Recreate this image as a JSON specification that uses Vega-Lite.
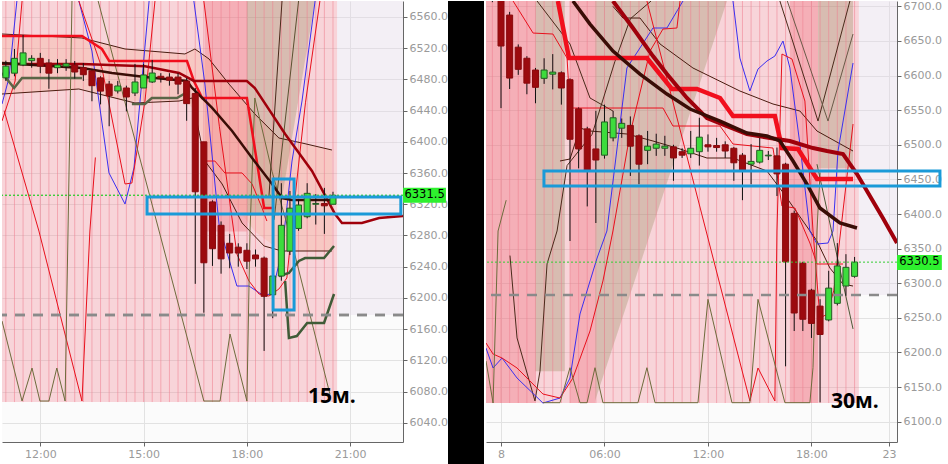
{
"$schema":"https://vega.github.io/schema/vega-lite/v6.json",
"padding":0,
"background":"#ffffff",
"spacing":0,
"config":{"view":{"stroke":null},"scale":{"continuousPadding":0},"axis":{"domainColor":"#666","tickColor":"#666","tickSize":4,"labelPadding":2,"gridColor":"#e2e2e2","labelColor":"#9a9a9a","labelFont":"DejaVu Sans","labelFontSize":11,"domainWidth":1}},
"datasets":{
"z15":[{"k":"base","t":10.888,"t2":20.62,"v":6066.5,"v2":6580.5},{"k":"lav","t":20.62,"t2":22.533,"v":6178,"v2":6580.5},{"k":"dark","t":16.78,"t2":18.0,"v":6285,"v2":6580.5}],
"a15":[{"t":18.0,"hi":6580.5,"lo":6305},{"t":18.93,"hi":6580.5,"lo":6305},{"t":19.98,"hi":6580.5,"lo":6580.5}],
"e15":[{"t":10.888,"hi":6538,"lo":6461},{"t":13.21,"hi":6533,"lo":6468},{"t":14.46,"hi":6519,"lo":6452},{"t":16.2,"hi":6512,"lo":6453},{"t":16.49,"hi":6519,"lo":6440},{"t":16.9,"hi":6506,"lo":6370},{"t":17.48,"hi":6474,"lo":6330},{"t":18.23,"hi":6436,"lo":6285},{"t":18.93,"hi":6405,"lo":6262},{"t":19.6,"hi":6398,"lo":6260},{"t":20.47,"hi":6389,"lo":6260}],
"z30":[{"k":"base","t":-0.87,"t2":20.75,"v":6127,"v2":6707.7},{"k":"lav","t":20.75,"t2":22.96,"v":6283,"v2":6707.7},{"k":"dark","t":-0.87,"t2":1.97,"v":6127,"v2":6707.7},{"k":"tan","t":1.97,"t2":3.7,"v":6173,"v2":6707.7},{"k":"dark","t":4.0,"t2":5.45,"v":6127,"v2":6707.7},{"k":"dark","t":16.75,"t2":18.38,"v":6127,"v2":6707.7},{"k":"tan","t":18.38,"t2":20.41,"v":6466,"v2":6707.7}],
"a30":[{"t":5.45,"hi":6707.7,"lo":6130},{"t":13.1,"hi":6707.7,"lo":6707.7}],
"c15":[
{"t":11.0,"o":6482,"h":6504,"l":6478,"c":6497},{"t":11.25,"o":6488,"h":6519,"l":6484,"c":6507},{"t":11.5,"o":6498.5,"h":6537,"l":6497,"c":6514},{"t":11.75,"o":6504,"h":6511,"l":6495,"c":6507},{"t":12.0,"o":6507,"h":6514,"l":6488,"c":6497},{"t":12.25,"o":6501,"h":6506,"l":6468,"c":6488},{"t":12.5,"o":6495,"h":6506,"l":6488,"c":6498.5},{"t":12.75,"o":6497,"h":6506,"l":6491,"c":6500},{"t":13.0,"o":6498.5,"h":6503.6,"l":6481,"c":6489.5},{"t":13.25,"o":6495,"h":6501,"l":6478,"c":6486},{"t":13.5,"o":6491,"h":6493,"l":6452,"c":6472},{"t":13.75,"o":6482,"h":6484,"l":6448,"c":6465},{"t":14.0,"o":6474,"h":6478,"l":6420,"c":6459},{"t":14.25,"o":6465.2,"h":6478,"l":6462,"c":6471.6},{"t":14.5,"o":6469,"h":6472,"l":6439,"c":6457.5},{"t":14.75,"o":6462.6,"h":6499.8,"l":6458.7,"c":6476.7},{"t":15.0,"o":6469,"h":6499.8,"l":6469,"c":6485.7},{"t":15.25,"o":6476.7,"h":6504.9,"l":6475.4,"c":6488.2},{"t":15.5,"o":6484,"h":6488,"l":6476,"c":6482},{"t":15.75,"o":6483,"h":6488,"l":6472,"c":6479},{"t":16.0,"o":6483,"h":6488,"l":6461,"c":6474},{"t":16.25,"o":6478,"h":6482,"l":6427,"c":6449},{"t":16.5,"o":6462,"h":6469,"l":6218,"c":6336},{"t":16.75,"o":6400,"h":6400,"l":6181,"c":6245},{"t":17.0,"o":6323,"h":6325,"l":6241,"c":6263},{"t":17.25,"o":6293,"h":6298,"l":6231,"c":6250},{"t":17.5,"o":6270,"h":6282,"l":6238,"c":6257.5},{"t":17.75,"o":6265,"h":6270,"l":6240,"c":6257.5},{"t":18.0,"o":6261,"h":6270,"l":6237,"c":6247},{"t":18.25,"o":6255,"h":6262,"l":6240,"c":6250},{"t":18.5,"o":6251,"h":6253,"l":6132,"c":6202},{"t":18.75,"o":6204,"h":6235,"l":6174,"c":6228},{"t":19.0,"o":6228,"h":6347,"l":6222,"c":6293},{"t":19.25,"o":6260,"h":6337,"l":6255,"c":6315},{"t":19.5,"o":6289,"h":6326,"l":6286,"c":6319},{"t":19.75,"o":6304,"h":6347,"l":6302,"c":6334},{"t":20.0,"o":6320,"h":6333,"l":6294,"c":6321},{"t":20.25,"o":6321,"h":6341,"l":6282,"c":6318},{"t":20.5,"o":6320,"h":6336,"l":6320,"c":6331.5}],
"c30":[
{"t":-0.5,"o":6780,"h":6790,"l":6706,"c":6745},{"t":0.0,"o":6720,"h":6730,"l":6553,"c":6642.7},{"t":0.5,"o":6687.4,"h":6692,"l":6580.6,"c":6596.4},{"t":1.0,"o":6641,"h":6645,"l":6601,"c":6609},{"t":1.5,"o":6625,"h":6628,"l":6573,"c":6589},{"t":2.0,"o":6608,"h":6611,"l":6560,"c":6583},{"t":2.5,"o":6596,"h":6625,"l":6588,"c":6608},{"t":3.0,"o":6602,"h":6631,"l":6580,"c":6605},{"t":3.5,"o":6604,"h":6606,"l":6558,"c":6582},{"t":4.0,"o":6594,"h":6596,"l":6361,"c":6508},{"t":4.5,"o":6552,"h":6554,"l":6466,"c":6494},{"t":5.0,"o":6523,"h":6526,"l":6411,"c":6462},{"t":5.5,"o":6494,"h":6549,"l":6387,"c":6478},{"t":6.0,"o":6485,"h":6558,"l":6480,"c":6533},{"t":6.5,"o":6510,"h":6549,"l":6505,"c":6539},{"t":7.0,"o":6524,"h":6538,"l":6510,"c":6531},{"t":7.5,"o":6528,"h":6541,"l":6455,"c":6498},{"t":8.0,"o":6513,"h":6515,"l":6443,"c":6472},{"t":8.5,"o":6492,"h":6520,"l":6472,"c":6498},{"t":9.0,"o":6495,"h":6516,"l":6484,"c":6501},{"t":9.5,"o":6495,"h":6513,"l":6484,"c":6498},{"t":10.0,"o":6497,"h":6500,"l":6448,"c":6481},{"t":10.5,"o":6490,"h":6495,"l":6481,"c":6485},{"t":11.0,"o":6487,"h":6520,"l":6481,"c":6495},{"t":11.5,"o":6490,"h":6539,"l":6470,"c":6511},{"t":12.0,"o":6500,"h":6515,"l":6490,"c":6497},{"t":12.5,"o":6499,"h":6510,"l":6490,"c":6496},{"t":13.0,"o":6500,"h":6505,"l":6481,"c":6491},{"t":13.5,"o":6495,"h":6497,"l":6448,"c":6474},{"t":14.0,"o":6485,"h":6488,"l":6420,"c":6462},{"t":14.5,"o":6472,"h":6501,"l":6443,"c":6476},{"t":15.0,"o":6475,"h":6510,"l":6473,"c":6492},{"t":15.5,"o":6484,"h":6491,"l":6478,"c":6485},{"t":16.0,"o":6484,"h":6496,"l":6426,"c":6458},{"t":16.5,"o":6472,"h":6474,"l":6180,"c":6331},{"t":17.0,"o":6401,"h":6405,"l":6231,"c":6257},{"t":17.5,"o":6329,"h":6331,"l":6231,"c":6248},{"t":18.0,"o":6290,"h":6292,"l":6221,"c":6242},{"t":18.5,"o":6267,"h":6277,"l":6128,"c":6226},{"t":19.0,"o":6247,"h":6318,"l":6245,"c":6293},{"t":19.5,"o":6271,"h":6358,"l":6268,"c":6325},{"t":20.0,"o":6296,"h":6342,"l":6282,"c":6323},{"t":20.5,"o":6310,"h":6338,"l":6308,"c":6330.5}],
"l15":[
{"s":"redstep","t":10.888,"v":6535.6},{"s":"redstep","t":13.21,"v":6535.6},{"s":"redstep","t":13.79,"v":6519},{"s":"redstep","t":14.0,"v":6503.6},{"s":"redstep","t":16.26,"v":6503.6},{"s":"redstep","t":16.46,"v":6478},{"s":"redstep","t":16.7,"v":6456.2},{"s":"redstep","t":18.0,"v":6456.2},{"s":"redstep","t":18.5,"v":6315.2},{"s":"redstep","t":18.79,"v":6315.2},
{"s":"darkred","t":10.888,"v":6499.8},{"s":"darkred","t":13.21,"v":6499.8},{"s":"darkred","t":15.04,"v":6497},{"s":"darkred","t":16.03,"v":6488.2},{"s":"darkred","t":16.46,"v":6478},{"s":"darkred","t":18.0,"v":6478},{"s":"darkred","t":18.23,"v":6469},{"s":"darkred","t":19.11,"v":6410},{"s":"darkred","t":19.89,"v":6362.6},{"s":"darkred","t":20.56,"v":6307.5},{"s":"darkred","t":20.76,"v":6296},{"s":"darkred","t":21.34,"v":6296},{"s":"darkred","t":21.84,"v":6302.4},{"s":"darkred","t":22.533,"v":6305},
{"s":"ma","t":10.888,"v":6501},{"s":"ma","t":13.21,"v":6494.6},{"s":"ma","t":14.08,"v":6488.2},{"s":"ma","t":15.04,"v":6483.1},{"s":"ma","t":16.26,"v":6478},{"s":"ma","t":16.41,"v":6469},{"s":"ma","t":16.99,"v":6443.4},{"s":"ma","t":17.57,"v":6413.9},{"s":"ma","t":18.15,"v":6379.3},{"s":"ma","t":18.73,"v":6346},{"s":"ma","t":19.02,"v":6328},{"s":"ma","t":19.31,"v":6325.4},{"s":"ma","t":20.47,"v":6325.4},
{"s":"upenv","t":10.888,"v":6538.2},{"s":"upenv","t":13.21,"v":6533.1},{"s":"upenv","t":14.46,"v":6519},{"s":"upenv","t":16.2,"v":6512.6},{"s":"upenv","t":16.49,"v":6519},{"s":"upenv","t":16.9,"v":6506.2},{"s":"upenv","t":17.48,"v":6474.1},{"s":"upenv","t":18.23,"v":6435.7},{"s":"upenv","t":18.93,"v":6404.9},{"s":"upenv","t":19.6,"v":6398.5},{"s":"upenv","t":20.47,"v":6389.5},
{"s":"loenv","t":10.888,"v":6461.3},{"s":"loenv","t":13.12,"v":6467.7},{"s":"loenv","t":14.75,"v":6449.8},{"s":"loenv","t":16.03,"v":6452.3},{"s":"loenv","t":16.41,"v":6456.2},{"s":"loenv","t":16.78,"v":6375.4},{"s":"loenv","t":17.28,"v":6346},{"s":"loenv","t":17.86,"v":6296},{"s":"loenv","t":18.5,"v":6266.5},{"s":"loenv","t":19.02,"v":6260.1},{"s":"loenv","t":20.47,"v":6260.1},
{"s":"olive1","t":10.888,"v":6488.2},{"s":"olive1","t":11.24,"v":6469},{"s":"olive1","t":11.47,"v":6481.8},{"s":"olive1","t":13.21,"v":6481.8},
{"s":"olive2","t":14.66,"v":6448.5},{"s":"olive2","t":15.04,"v":6448.5},{"s":"olive2","t":15.24,"v":6456.2},{"s":"olive2","t":15.97,"v":6456.2},{"s":"olive2","t":16.32,"v":6465.2},
{"s":"dg1","t":18.93,"v":6228},{"s":"dg1","t":19.22,"v":6231.9},{"s":"dg1","t":19.51,"v":6247.3},{"s":"dg1","t":19.69,"v":6251.1},{"s":"dg1","t":20.24,"v":6251.1},{"s":"dg1","t":20.53,"v":6266.5},
{"s":"dg2","t":19.11,"v":6221.6},{"s":"dg2","t":19.22,"v":6148.6},{"s":"dg2","t":19.45,"v":6151.1},{"s":"dg2","t":19.75,"v":6167.8},{"s":"dg2","t":20.24,"v":6167.8},{"s":"dg2","t":20.53,"v":6205},
{"s":"blueA","t":10.888,"v":6448.5},{"s":"blueA","t":11.09,"v":6481.8},{"s":"blueA","t":11.32,"v":6580.5},
{"s":"blueB","t":13.12,"v":6580.5},{"s":"blueB","t":13.5,"v":6516.4},{"s":"blueB","t":13.995,"v":6360.1},{"s":"blueB","t":14.46,"v":6320.3},{"s":"blueB","t":14.72,"v":6366.5},{"s":"blueB","t":15.16,"v":6580.5},
{"s":"blueC","t":16.46,"v":6580.5},{"s":"blueC","t":16.78,"v":6474.1},{"s":"blueC","t":17.19,"v":6294.7},{"s":"blueC","t":17.28,"v":6279.3},{"s":"blueC","t":17.71,"v":6215.2},{"s":"blueC","t":18.06,"v":6215.2},{"s":"blueC","t":18.5,"v":6202.4},{"s":"blueC","t":18.73,"v":6206.2},{"s":"blueC","t":19.02,"v":6260.1},{"s":"blueC","t":19.31,"v":6375.4},{"s":"blueC","t":19.6,"v":6452.3},{"s":"blueC","t":19.98,"v":6580.5},
{"s":"redA","t":10.888,"v":6426.7},{"s":"redA","t":11.27,"v":6478},{"s":"redA","t":11.47,"v":6580.5},
{"s":"redB","t":13.12,"v":6580.5},{"s":"redB","t":13.79,"v":6494.6},{"s":"redB","t":14.46,"v":6346},{"s":"redB","t":14.66,"v":6347.2},{"s":"redB","t":15.04,"v":6452.3},{"s":"redB","t":15.33,"v":6580.5},
{"s":"redC","t":10.95,"v":6440},{"s":"redC","t":11.96,"v":6285.7},{"s":"redC","t":13.21,"v":6067.8},{"s":"redC","t":13.44,"v":6285.7},{"s":"redC","t":13.6,"v":6380},
{"s":"redD","t":16.78,"v":6375.4},{"s":"redD","t":17.07,"v":6375.4},{"s":"redD","t":17.36,"v":6360.1},{"s":"redD","t":17.86,"v":6360.1},{"s":"redD","t":18.15,"v":6346},{"s":"redD","t":18.44,"v":6315.2},{"s":"redD","t":18.58,"v":6298.5},
{"s":"redE","t":16.75,"v":6580.5},{"s":"redE","t":17.2,"v":6420},{"s":"redE","t":17.71,"v":6256.2},{"s":"redE","t":18.06,"v":6221.6},{"s":"redE","t":18.35,"v":6205},{"s":"redE","t":18.64,"v":6202.4},{"s":"redE","t":18.93,"v":6211.4},{"s":"redE","t":19.16,"v":6225.5},{"s":"redE","t":19.4,"v":6330},{"s":"redE","t":19.7,"v":6450},{"s":"redE","t":20.12,"v":6580.5},
{"s":"olA","t":10.888,"v":6170.4},{"s":"olA","t":11.47,"v":6067.8},{"s":"olA","t":11.76,"v":6110.1},{"s":"olA","t":11.99,"v":6067.8},{"s":"olA","t":12.25,"v":6067.8},{"s":"olA","t":12.48,"v":6110.1},{"s":"olA","t":12.72,"v":6067.8},{"s":"olA","t":12.92,"v":6580.5},
{"s":"olB","t":13.68,"v":6580.5},{"s":"olB","t":15.45,"v":6285.7},{"s":"olB","t":16.75,"v":6067.8},{"s":"olB","t":17.22,"v":6067.8},{"s":"olB","t":17.51,"v":6153.7},{"s":"olB","t":18.0,"v":6067.8},{"s":"olB","t":18.09,"v":6285.7},{"s":"olB","t":18.23,"v":6456.2},{"s":"olB","t":18.73,"v":6362},{"s":"olB","t":19.22,"v":6285.7},{"s":"olB","t":20.41,"v":6076.8},
{"s":"brA","t":18.64,"v":6330},{"s":"brA","t":19.02,"v":6580.5},
{"s":"brB","t":18.79,"v":6300},{"s":"brB","t":19.5,"v":6580.5}],
"l30":[
{"s":"redstep","t":3.3,"v":6707.7},{"s":"redstep","t":3.94,"v":6625.3},{"s":"redstep","t":8.46,"v":6625.3},{"s":"redstep","t":9.91,"v":6580.6},{"s":"redstep","t":11.36,"v":6580.6},{"s":"redstep","t":12.7,"v":6567.6},{"s":"redstep","t":13.45,"v":6541.6},{"s":"redstep","t":15.88,"v":6541.6},{"s":"redstep","t":16.29,"v":6495.3},{"s":"redstep","t":17.22,"v":6493.9},{"s":"redstep","t":18.32,"v":6450.6},{"s":"redstep","t":20.41,"v":6450.6},
{"s":"darkred","t":6.49,"v":6707.7},{"s":"darkred","t":7.65,"v":6668.7},{"s":"darkred","t":8.81,"v":6628.2},{"s":"darkred","t":9.62,"v":6602.2},{"s":"darkred","t":10.78,"v":6567.6},{"s":"darkred","t":11.94,"v":6538.6},{"s":"darkred","t":13.1,"v":6527.1},{"s":"darkred","t":14.26,"v":6515.6},{"s":"darkred","t":15.59,"v":6509.8},{"s":"darkred","t":16.75,"v":6505.5},{"s":"darkred","t":18.09,"v":6495.3},{"s":"darkred","t":18.9,"v":6491},{"s":"darkred","t":19.83,"v":6486.7},{"s":"darkred","t":20.64,"v":6457.8},{"s":"darkred","t":22.14,"v":6394.2},{"s":"darkred","t":22.96,"v":6358},
{"s":"ma","t":4.17,"v":6707.7},{"s":"ma","t":5.16,"v":6674.4},{"s":"ma","t":6.49,"v":6635.4},{"s":"ma","t":8.06,"v":6602.2},{"s":"ma","t":9.62,"v":6573.3},{"s":"ma","t":10.96,"v":6551.7},{"s":"ma","t":12.7,"v":6534.3},{"s":"ma","t":14.26,"v":6517},{"s":"ma","t":15.42,"v":6512.7},{"s":"ma","t":16.17,"v":6505.5},{"s":"ma","t":16.93,"v":6476.6},{"s":"ma","t":17.74,"v":6443.3},{"s":"ma","t":18.49,"v":6408.7},{"s":"ma","t":19.65,"v":6387},{"s":"ma","t":20.64,"v":6379.8},
{"s":"upenv","t":6.49,"v":6700},{"s":"upenv","t":7.07,"v":6683.1},{"s":"upenv","t":8.06,"v":6683.1},{"s":"upenv","t":9.22,"v":6645.6},{"s":"upenv","t":11.13,"v":6610.9},{"s":"upenv","t":13.85,"v":6577.7},{"s":"upenv","t":15.77,"v":6558.9},{"s":"upenv","t":17.33,"v":6548.8},{"s":"upenv","t":18.32,"v":6519.9},{"s":"upenv","t":20.41,"v":6491},
{"s":"loenv","t":3.42,"v":6476.6},{"s":"loenv","t":4.0,"v":6479.5},{"s":"loenv","t":4.58,"v":6524.2},{"s":"loenv","t":5.16,"v":6519.9},{"s":"loenv","t":7.3,"v":6515.6},{"s":"loenv","t":8.81,"v":6505.5},{"s":"loenv","t":10.38,"v":6493.9},{"s":"loenv","t":11.94,"v":6480.9},{"s":"loenv","t":13.45,"v":6480.9},{"s":"loenv","t":15.42,"v":6462.1},{"s":"loenv","t":16.29,"v":6433.2},{"s":"loenv","t":18.32,"v":6361},{"s":"loenv","t":19.07,"v":6321.9},{"s":"loenv","t":19.83,"v":6298.8},{"s":"loenv","t":20.41,"v":6296},
{"s":"brA","t":2.09,"v":6707.7},{"s":"brA","t":4.0,"v":6645.6},{"s":"brA","t":5.16,"v":6567.6},{"s":"brA","t":6.49,"v":6548.8},
{"s":"brB","t":0.52,"v":6340},{"s":"brB","t":0.93,"v":6221},{"s":"brB","t":1.97,"v":6130},{"s":"brB","t":2.26,"v":6173},{"s":"brB","t":2.67,"v":6328},{"s":"brB","t":3.25,"v":6375.5},{"s":"brB","t":3.83,"v":6470},{"s":"brB","t":5.28,"v":6515},{"s":"brB","t":6.6,"v":6620},{"s":"brB","t":7.5,"v":6682},{"s":"brB","t":8.7,"v":6707.7},
{"s":"brC","t":16.17,"v":6707.7},{"s":"brC","t":18.38,"v":6534.3},{"s":"brC","t":20.23,"v":6707.7},
{"s":"brD","t":16.6,"v":6707.7},{"s":"brD","t":18.96,"v":6534.3},{"s":"brD","t":20.41,"v":6660},
{"s":"blueA","t":-0.87,"v":6206.4},{"s":"blueA","t":-0.46,"v":6177.6},{"s":"blueA","t":0.06,"v":6192},{"s":"blueA","t":0.93,"v":6163.1},{"s":"blueA","t":2.43,"v":6127},{"s":"blueA","t":3.42,"v":6134.2},{"s":"blueA","t":4.0,"v":6163.1},{"s":"blueA","t":4.58,"v":6255.6},{"s":"blueA","t":5.57,"v":6336.4},{"s":"blueA","t":6.14,"v":6375.5},{"s":"blueA","t":7.3,"v":6610.9},{"s":"blueA","t":8.81,"v":6668.7},{"s":"blueA","t":9.62,"v":6668.7},{"s":"blueA","t":10.55,"v":6707.7},
{"s":"blueB","t":13.45,"v":6707.7},{"s":"blueB","t":13.85,"v":6625.3},{"s":"blueB","t":14.43,"v":6577.7},{"s":"blueB","t":14.9,"v":6609.4},{"s":"blueB","t":15.42,"v":6621},{"s":"blueB","t":15.88,"v":6628.2},{"s":"blueB","t":16.35,"v":6649.9},{"s":"blueB","t":16.75,"v":6611},{"s":"blueB","t":17.33,"v":6501},{"s":"blueB","t":17.91,"v":6375.5},{"s":"blueB","t":18.32,"v":6356.7},{"s":"blueB","t":18.96,"v":6358.1},{"s":"blueB","t":19.25,"v":6375.5},{"s":"blueB","t":19.54,"v":6491},{"s":"blueB","t":20.41,"v":6618.1},
{"s":"redA","t":-0.87,"v":6213.7},{"s":"redA","t":-0.46,"v":6197.8},{"s":"redA","t":0.06,"v":6192},{"s":"redA","t":0.93,"v":6177.6},{"s":"redA","t":2.43,"v":6140},{"s":"redA","t":3.42,"v":6134.2},{"s":"redA","t":4.17,"v":6163.1},{"s":"redA","t":5.16,"v":6231},{"s":"redA","t":5.91,"v":6303.3},{"s":"redA","t":6.49,"v":6375.5},{"s":"redA","t":7.48,"v":6515.6},{"s":"redA","t":8.64,"v":6635.4},{"s":"redA","t":9.39,"v":6667.2},{"s":"redA","t":10.2,"v":6668.7},{"s":"redA","t":10.38,"v":6707.7},
{"s":"redB","t":8.46,"v":6707.7},{"s":"redB","t":14.43,"v":6130},{"s":"redB","t":14.9,"v":6177.6},{"s":"redB","t":15.88,"v":6130},{"s":"redB","t":16.0,"v":6375.5},{"s":"redB","t":16.29,"v":6631.1},{"s":"redB","t":16.87,"v":6623.9},{"s":"redB","t":17.62,"v":6563.2},{"s":"redB","t":18.09,"v":6375.5},{"s":"redB","t":18.49,"v":6250},{"s":"redB","t":18.9,"v":6255},{"s":"redB","t":19.3,"v":6290},{"s":"redB","t":20.41,"v":6530},
{"s":"redC","t":0.7,"v":6707.7},{"s":"redC","t":1.86,"v":6661.4},{"s":"redC","t":3.01,"v":6660},{"s":"redC","t":3.83,"v":6625.3},{"s":"redC","t":4.0,"v":6553.1},{"s":"redC","t":9.39,"v":6553.1},{"s":"redC","t":9.97,"v":6527.1},{"s":"redC","t":12.7,"v":6527.1},{"s":"redC","t":13.45,"v":6501.1},{"s":"redC","t":15.77,"v":6495.3},{"s":"redC","t":16.29,"v":6411.6},{"s":"redC","t":17.04,"v":6408.7},{"s":"redC","t":17.91,"v":6358.1},{"s":"redC","t":18.32,"v":6327.8},{"s":"redC","t":19.83,"v":6327.8},
{"s":"olA","t":-0.87,"v":6187.7},{"s":"olA","t":-0.46,"v":6127},{"s":"olA","t":-0.17,"v":6375.5},{"s":"olA","t":0.3,"v":6420},
{"s":"olB","t":2.43,"v":6127.5},{"s":"olB","t":3.42,"v":6127.5},{"s":"olB","t":4.0,"v":6178},{"s":"olB","t":4.58,"v":6127.5},{"s":"olB","t":4.99,"v":6127.5},{"s":"olB","t":5.45,"v":6178},{"s":"olB","t":5.91,"v":6127.5},{"s":"olB","t":7.94,"v":6127.5},{"s":"olB","t":8.46,"v":6178},{"s":"olB","t":8.93,"v":6127.5},{"s":"olB","t":11.42,"v":6127.5},{"s":"olB","t":12.0,"v":6276.8},{"s":"olB","t":13.39,"v":6127.5},{"s":"olB","t":14.43,"v":6127.5},{"s":"olB","t":14.9,"v":6276.8},{"s":"olB","t":16.46,"v":6127.5},{"s":"olB","t":17.91,"v":6127.5},{"s":"olB","t":18.09,"v":6178},{"s":"olB","t":18.32,"v":6375.5},{"s":"olB","t":18.5,"v":6460},
{"s":"olC","t":18.32,"v":6472},{"s":"olC","t":20.41,"v":6234}],
"b15":[{"t":15.1,"t2":22.47,"v":6307.5,"v2":6329.3},{"t":18.76,"t2":19.37,"v":6184.5,"v2":6352.4}],
"b30":[{"t":2.49,"t2":25.45,"v":6440.4,"v2":6462.1}],
"p15":[{"t":22.533,"t2":23.78,"v":6322,"v2":6341,"tm":23.16,"p":6331.5,"txt":"6331.5"}],
"p30":[{"t":22.96,"t2":25.56,"v":6319.1,"v2":6340.8,"tm":24.26,"p":6330.5,"txt":"6330.5"}],
"t15":[{"t":20.47,"v":6073,"txt":"15м."}],
"t30":[{"t":20.52,"v":6128.4,"txt":"30м."}]
},
"hconcat":[
{
"width":401,"height":441,
"view":{"fill":"#fbfbfb","stroke":null},
"resolve":{"scale":{"color":"independent","fill":"independent","strokeWidth":"independent"}},
"layer":[
{"data":{"name":"z15"},"mark":{"type":"rect","opacity":0.3,"clip":true},
"encoding":{"x":{"field":"t","type":"quantitative","scale":{"domain":[10.888,22.533],"nice":false,"zero":false,"padding":0},"axis":{"values":[12,15,18,21],"labelExpr":"datum.value + ':00'","grid":true,"title":null}},
"x2":{"field":"t2"},
"y":{"field":"v","type":"quantitative","scale":{"domain":[6015.3,6580.5],"nice":false,"zero":false,"padding":0},"axis":{"orient":"right","values":[6040,6080,6120,6160,6200,6240,6280,6320,6360,6400,6440,6480,6520,6560],"format":".1f","grid":true,"title":null}},
"y2":{"field":"v2"},
"fill":{"field":"k","type":"nominal","scale":{"domain":["base","dark","tan","lav"],"range":["#f27a8a","#f05a6a","#8d8457","#e0d3e7"]},"legend":null}}},
{"data":{"name":"e15"},"mark":{"type":"area","color":"#f39a70","opacity":0.2,"clip":true},
"encoding":{"x":{"field":"t","type":"quantitative","scale":{"domain":[10.888,22.533],"nice":false,"zero":false,"padding":0},"axis":{"values":[12,15,18,21],"labelExpr":"datum.value + ':00'","grid":true,"title":null}},"y":{"field":"hi","type":"quantitative","scale":{"domain":[6015.3,6580.5],"nice":false,"zero":false,"padding":0},"axis":{"orient":"right","values":[6040,6080,6120,6160,6200,6240,6280,6320,6360,6400,6440,6480,6520,6560],"format":".1f","grid":true,"title":null}},"y2":{"field":"lo"}}},
{"data":{"name":"a15"},"mark":{"type":"area","color":"#8d8457","opacity":0.3,"clip":true},
"encoding":{"x":{"field":"t","type":"quantitative","scale":{"domain":[10.888,22.533],"nice":false,"zero":false,"padding":0},"axis":{"values":[12,15,18,21],"labelExpr":"datum.value + ':00'","grid":true,"title":null}},"y":{"field":"hi","type":"quantitative","scale":{"domain":[6015.3,6580.5],"nice":false,"zero":false,"padding":0},"axis":{"orient":"right","values":[6040,6080,6120,6160,6200,6240,6280,6320,6360,6400,6440,6480,6520,6560],"format":".1f","grid":true,"title":null}},"y2":{"field":"lo"}}},
{"data":{"name":"c15"},"mark":{"type":"rule","color":"#ee8090","opacity":0.55,"strokeWidth":1},
"encoding":{"x":{"field":"t","type":"quantitative","scale":{"domain":[10.888,22.533],"nice":false,"zero":false,"padding":0},"axis":{"values":[12,15,18,21],"labelExpr":"datum.value + ':00'","grid":true,"title":null}},"y":{"datum":6066.5,"type":"quantitative","scale":{"domain":[6015.3,6580.5],"nice":false,"zero":false,"padding":0},"axis":{"orient":"right","values":[6040,6080,6120,6160,6200,6240,6280,6320,6360,6400,6440,6480,6520,6560],"format":".1f","grid":true,"title":null}},"y2":{"datum":6580.5}}},
{"data":{"name":"l15"},"transform":[{"filter":{"field":"s","oneOf":["upenv","loenv","blueA","blueB","blueC","redA","redB","redC","redD","redE","olA","olB","brA","brB"]}}],
"mark":{"type":"line","clip":true},
"encoding":{"x":{"field":"t","type":"quantitative","scale":{"domain":[10.888,22.533],"nice":false,"zero":false,"padding":0},"axis":{"values":[12,15,18,21],"labelExpr":"datum.value + ':00'","grid":true,"title":null}},"y":{"field":"v","type":"quantitative","scale":{"domain":[6015.3,6580.5],"nice":false,"zero":false,"padding":0},"axis":{"orient":"right","values":[6040,6080,6120,6160,6200,6240,6280,6320,6360,6400,6440,6480,6520,6560],"format":".1f","grid":true,"title":null}},"detail":{"field":"s"},
"color":{"field":"s","type":"nominal","scale":{"domain":["upenv","loenv","blueA","blueB","blueC","redA","redB","redC","redD","redE","olA","olB","brA","brB"],"range":["#4a1c10","#4a1c10","#3b2ff0","#3b2ff0","#3b2ff0","#e8101c","#e8101c","#e8101c","#e8101c","#e8101c","#6e6b3c","#6e6b3c","#4a2a1a","#5a5030"]},"legend":null},
"strokeWidth":{"field":"s","type":"nominal","scale":{"domain":["upenv","loenv","blueA","blueB","blueC","redA","redB","redC","redD","redE","olA","olB","brA","brB"],"range":[1,1,1,1,1,1.2,1.2,1.2,1.2,1.2,1.3,1.3,1,1]},"legend":null}}},
{"data":{"name":"l15"},"transform":[{"filter":{"field":"s","oneOf":["olive1","olive2","dg1","redstep","darkred","ma","dg2"]}}],
"mark":{"type":"line","clip":true},
"encoding":{"x":{"field":"t","type":"quantitative","scale":{"domain":[10.888,22.533],"nice":false,"zero":false,"padding":0},"axis":{"values":[12,15,18,21],"labelExpr":"datum.value + ':00'","grid":true,"title":null}},"y":{"field":"v","type":"quantitative","scale":{"domain":[6015.3,6580.5],"nice":false,"zero":false,"padding":0},"axis":{"orient":"right","values":[6040,6080,6120,6160,6200,6240,6280,6320,6360,6400,6440,6480,6520,6560],"format":".1f","grid":true,"title":null}},"detail":{"field":"s"},
"color":{"field":"s","type":"nominal","scale":{"domain":["olive1","olive2","dg1","redstep","darkred","ma","dg2"],"range":["#5b6547","#5b6547","#3f5b37","#f10f1d","#a0000b","#3a0d06","#3f5b37"]},"legend":null},
"strokeWidth":{"field":"s","type":"nominal","scale":{"domain":["olive1","olive2","dg1","redstep","darkred","ma","dg2"],"range":[2.5,2.5,2,4.5,3.5,3,4]},"legend":null}}},
{"data":{"name":"c15"},"mark":{"type":"rule","color":"#111111","strokeWidth":1,"clip":true},
"encoding":{"x":{"field":"t","type":"quantitative","scale":{"domain":[10.888,22.533],"nice":false,"zero":false,"padding":0},"axis":{"values":[12,15,18,21],"labelExpr":"datum.value + ':00'","grid":true,"title":null}},"y":{"field":"l","type":"quantitative","scale":{"domain":[6015.3,6580.5],"nice":false,"zero":false,"padding":0},"axis":{"orient":"right","values":[6040,6080,6120,6160,6200,6240,6280,6320,6360,6400,6440,6480,6520,6560],"format":".1f","grid":true,"title":null}},"y2":{"field":"h"}}},
{"data":{"name":"c15"},"mark":{"type":"bar","size":6,"strokeWidth":1,"clip":true},
"encoding":{"x":{"field":"t","type":"quantitative","scale":{"domain":[10.888,22.533],"nice":false,"zero":false,"padding":0},"axis":{"values":[12,15,18,21],"labelExpr":"datum.value + ':00'","grid":true,"title":null}},"y":{"field":"o","type":"quantitative","scale":{"domain":[6015.3,6580.5],"nice":false,"zero":false,"padding":0},"axis":{"orient":"right","values":[6040,6080,6120,6160,6200,6240,6280,6320,6360,6400,6440,6480,6520,6560],"format":".1f","grid":true,"title":null}},"y2":{"field":"c"},
"fill":{"condition":{"test":"datum.c >= datum.o","value":"#3ddc3d"},"value":"#9c0a0e"},
"stroke":{"condition":{"test":"datum.c >= datum.o","value":"#245c24"},"value":"#8a0a0e"}}},
{"data":{"name":"b15"},"mark":{"type":"rule","color":"#8a8a8a","strokeWidth":2.5,"strokeDash":[10,8]},
"encoding":{"y":{"datum":6178,"type":"quantitative","scale":{"domain":[6015.3,6580.5],"nice":false,"zero":false,"padding":0},"axis":{"orient":"right","values":[6040,6080,6120,6160,6200,6240,6280,6320,6360,6400,6440,6480,6520,6560],"format":".1f","grid":true,"title":null}}}},
{"data":{"name":"b15"},"mark":{"type":"rule","color":"#33cc33","strokeWidth":1,"strokeDash":[2,2]},
"encoding":{"y":{"datum":6331.5,"type":"quantitative","scale":{"domain":[6015.3,6580.5],"nice":false,"zero":false,"padding":0},"axis":{"orient":"right","values":[6040,6080,6120,6160,6200,6240,6280,6320,6360,6400,6440,6480,6520,6560],"format":".1f","grid":true,"title":null}}}},
{"data":{"name":"b15"},"mark":{"type":"rect","fill":null,"stroke":"#1a9ad8","strokeWidth":3,"clip":false},
"encoding":{"x":{"field":"t","type":"quantitative","scale":{"domain":[10.888,22.533],"nice":false,"zero":false,"padding":0},"axis":{"values":[12,15,18,21],"labelExpr":"datum.value + ':00'","grid":true,"title":null}},"x2":{"field":"t2"},"y":{"field":"v","type":"quantitative","scale":{"domain":[6015.3,6580.5],"nice":false,"zero":false,"padding":0},"axis":{"orient":"right","values":[6040,6080,6120,6160,6200,6240,6280,6320,6360,6400,6440,6480,6520,6560],"format":".1f","grid":true,"title":null}},"y2":{"field":"v2"}}},
{"data":{"name":"p15"},"mark":{"type":"rect","color":"#2ef02e","clip":false},
"encoding":{"x":{"field":"t","type":"quantitative","scale":{"domain":[10.888,22.533],"nice":false,"zero":false,"padding":0},"axis":{"values":[12,15,18,21],"labelExpr":"datum.value + ':00'","grid":true,"title":null}},"x2":{"field":"t2"},"y":{"field":"v","type":"quantitative","scale":{"domain":[6015.3,6580.5],"nice":false,"zero":false,"padding":0},"axis":{"orient":"right","values":[6040,6080,6120,6160,6200,6240,6280,6320,6360,6400,6440,6480,6520,6560],"format":".1f","grid":true,"title":null}},"y2":{"field":"v2"}}},
{"data":{"name":"p15"},"mark":{"type":"text","color":"#000000","font":"DejaVu Sans","fontSize":11.5,"align":"center","baseline":"middle","clip":false},
"encoding":{"x":{"field":"tm","type":"quantitative","scale":{"domain":[10.888,22.533],"nice":false,"zero":false,"padding":0},"axis":{"values":[12,15,18,21],"labelExpr":"datum.value + ':00'","grid":true,"title":null}},"y":{"field":"p","type":"quantitative","scale":{"domain":[6015.3,6580.5],"nice":false,"zero":false,"padding":0},"axis":{"orient":"right","values":[6040,6080,6120,6160,6200,6240,6280,6320,6360,6400,6440,6480,6520,6560],"format":".1f","grid":true,"title":null}},"text":{"field":"txt"}}},
{"data":{"name":"t15"},"mark":{"type":"text","color":"#000000","font":"Open Sans","fontWeight":"bold","fontSize":21,"align":"center","baseline":"middle"},
"encoding":{"x":{"field":"t","type":"quantitative","scale":{"domain":[10.888,22.533],"nice":false,"zero":false,"padding":0},"axis":{"values":[12,15,18,21],"labelExpr":"datum.value + ':00'","grid":true,"title":null}},"y":{"field":"v","type":"quantitative","scale":{"domain":[6015.3,6580.5],"nice":false,"zero":false,"padding":0},"axis":{"orient":"right","values":[6040,6080,6120,6160,6200,6240,6280,6320,6360,6400,6440,6480,6520,6560],"format":".1f","grid":true,"title":null}},"text":{"field":"txt"}}}
]},
{"width":36,"height":464,"view":{"fill":"#000000","stroke":null},"data":{"values":[{"a":1}]},"mark":{"type":"point","opacity":0},"encoding":{}},
{
"width":411,"height":441,
"view":{"fill":"#fbfbfb","stroke":null},
"resolve":{"scale":{"color":"independent","fill":"independent","strokeWidth":"independent"}},
"layer":[
{"data":{"name":"z30"},"mark":{"type":"rect","opacity":0.3,"clip":true},
"encoding":{"x":{"field":"t","type":"quantitative","scale":{"domain":[-0.87,22.96],"nice":false,"zero":false,"padding":0},"axis":{"values":[0,6,12,18,22.5],"labelExpr":"datum.value == 0 ? '8' : datum.value == 22.5 ? '23' : (datum.value < 10 ? '0' : '') + datum.value + ':00'","grid":true,"title":null}},
"x2":{"field":"t2"},
"y":{"field":"v","type":"quantitative","scale":{"domain":[6070.7,6707.7],"nice":false,"zero":false,"padding":0},"axis":{"orient":"right","values":[6100,6150,6200,6250,6300,6350,6400,6450,6500,6550,6600,6650,6700],"format":".1f","grid":true,"title":null}},
"y2":{"field":"v2"},
"fill":{"field":"k","type":"nominal","scale":{"domain":["base","dark","tan","lav"],"range":["#f27a8a","#f05a6a","#8d8457","#e0d3e7"]},"legend":null}}},
{"data":{"name":"a30"},"mark":{"type":"area","color":"#8d8457","opacity":0.3,"clip":true},
"encoding":{"x":{"field":"t","type":"quantitative","scale":{"domain":[-0.87,22.96],"nice":false,"zero":false,"padding":0},"axis":{"values":[0,6,12,18,22.5],"labelExpr":"datum.value == 0 ? '8' : datum.value == 22.5 ? '23' : (datum.value < 10 ? '0' : '') + datum.value + ':00'","grid":true,"title":null}},"y":{"field":"hi","type":"quantitative","scale":{"domain":[6070.7,6707.7],"nice":false,"zero":false,"padding":0},"axis":{"orient":"right","values":[6100,6150,6200,6250,6300,6350,6400,6450,6500,6550,6600,6650,6700],"format":".1f","grid":true,"title":null}},"y2":{"field":"lo"}}},
{"data":{"name":"c30"},"mark":{"type":"rule","color":"#ee8090","opacity":0.55,"strokeWidth":1,"clip":true},
"encoding":{"x":{"field":"t","type":"quantitative","scale":{"domain":[-0.87,22.96],"nice":false,"zero":false,"padding":0},"axis":{"values":[0,6,12,18,22.5],"labelExpr":"datum.value == 0 ? '8' : datum.value == 22.5 ? '23' : (datum.value < 10 ? '0' : '') + datum.value + ':00'","grid":true,"title":null}},"y":{"datum":6127,"type":"quantitative","scale":{"domain":[6070.7,6707.7],"nice":false,"zero":false,"padding":0},"axis":{"orient":"right","values":[6100,6150,6200,6250,6300,6350,6400,6450,6500,6550,6600,6650,6700],"format":".1f","grid":true,"title":null}},"y2":{"datum":6707.7}}},
{"data":{"name":"l30"},"transform":[{"filter":{"field":"s","oneOf":["upenv","loenv","brA","brB","brC","brD","blueA","blueB","redA","redB","redC","olA","olB","olC"]}}],
"mark":{"type":"line","clip":true},
"encoding":{"x":{"field":"t","type":"quantitative","scale":{"domain":[-0.87,22.96],"nice":false,"zero":false,"padding":0},"axis":{"values":[0,6,12,18,22.5],"labelExpr":"datum.value == 0 ? '8' : datum.value == 22.5 ? '23' : (datum.value < 10 ? '0' : '') + datum.value + ':00'","grid":true,"title":null}},"y":{"field":"v","type":"quantitative","scale":{"domain":[6070.7,6707.7],"nice":false,"zero":false,"padding":0},"axis":{"orient":"right","values":[6100,6150,6200,6250,6300,6350,6400,6450,6500,6550,6600,6650,6700],"format":".1f","grid":true,"title":null}},"detail":{"field":"s"},
"color":{"field":"s","type":"nominal","scale":{"domain":["upenv","loenv","brA","brB","brC","brD","blueA","blueB","redA","redB","redC","olA","olB","olC"],"range":["#4a1c10","#4a1c10","#4a2a1a","#4a2a1a","#4a2a1a","#6a5a48","#3b2ff0","#3b2ff0","#e8101c","#e8101c","#e8101c","#6e6b3c","#6e6b3c","#4d5a38"]},"legend":null},
"strokeWidth":{"field":"s","type":"nominal","scale":{"domain":["upenv","loenv","brA","brB","brC","brD","blueA","blueB","redA","redB","redC","olA","olB","olC"],"range":[1,1,1,1,1.2,1.2,1,1,1.2,1.2,1.5,1.3,1.3,2]},"legend":null}}},
{"data":{"name":"l30"},"transform":[{"filter":{"field":"s","oneOf":["redstep","darkred","ma"]}}],
"mark":{"type":"line","clip":true},
"encoding":{"x":{"field":"t","type":"quantitative","scale":{"domain":[-0.87,22.96],"nice":false,"zero":false,"padding":0},"axis":{"values":[0,6,12,18,22.5],"labelExpr":"datum.value == 0 ? '8' : datum.value == 22.5 ? '23' : (datum.value < 10 ? '0' : '') + datum.value + ':00'","grid":true,"title":null}},"y":{"field":"v","type":"quantitative","scale":{"domain":[6070.7,6707.7],"nice":false,"zero":false,"padding":0},"axis":{"orient":"right","values":[6100,6150,6200,6250,6300,6350,6400,6450,6500,6550,6600,6650,6700],"format":".1f","grid":true,"title":null}},"detail":{"field":"s"},
"color":{"field":"s","type":"nominal","scale":{"domain":["redstep","darkred","ma"],"range":["#f10f1d","#a0000b","#3a0d06"]},"legend":null},
"strokeWidth":{"field":"s","type":"nominal","scale":{"domain":["redstep","darkred","ma"],"range":[4.5,3.5,3]},"legend":null}}},
{"data":{"name":"c30"},"mark":{"type":"rule","color":"#111111","strokeWidth":1,"clip":true},
"encoding":{"x":{"field":"t","type":"quantitative","scale":{"domain":[-0.87,22.96],"nice":false,"zero":false,"padding":0},"axis":{"values":[0,6,12,18,22.5],"labelExpr":"datum.value == 0 ? '8' : datum.value == 22.5 ? '23' : (datum.value < 10 ? '0' : '') + datum.value + ':00'","grid":true,"title":null}},"y":{"field":"l","type":"quantitative","scale":{"domain":[6070.7,6707.7],"nice":false,"zero":false,"padding":0},"axis":{"orient":"right","values":[6100,6150,6200,6250,6300,6350,6400,6450,6500,6550,6600,6650,6700],"format":".1f","grid":true,"title":null}},"y2":{"field":"h"}}},
{"data":{"name":"c30"},"mark":{"type":"bar","size":6,"strokeWidth":1,"clip":true},
"encoding":{"x":{"field":"t","type":"quantitative","scale":{"domain":[-0.87,22.96],"nice":false,"zero":false,"padding":0},"axis":{"values":[0,6,12,18,22.5],"labelExpr":"datum.value == 0 ? '8' : datum.value == 22.5 ? '23' : (datum.value < 10 ? '0' : '') + datum.value + ':00'","grid":true,"title":null}},"y":{"field":"o","type":"quantitative","scale":{"domain":[6070.7,6707.7],"nice":false,"zero":false,"padding":0},"axis":{"orient":"right","values":[6100,6150,6200,6250,6300,6350,6400,6450,6500,6550,6600,6650,6700],"format":".1f","grid":true,"title":null}},"y2":{"field":"c"},
"fill":{"condition":{"test":"datum.c >= datum.o","value":"#3ddc3d"},"value":"#9c0a0e"},
"stroke":{"condition":{"test":"datum.c >= datum.o","value":"#245c24"},"value":"#8a0a0e"}}},
{"data":{"name":"b30"},"mark":{"type":"rule","color":"#8a8a8a","strokeWidth":2.5,"strokeDash":[10,8]},
"encoding":{"y":{"datum":6283,"type":"quantitative","scale":{"domain":[6070.7,6707.7],"nice":false,"zero":false,"padding":0},"axis":{"orient":"right","values":[6100,6150,6200,6250,6300,6350,6400,6450,6500,6550,6600,6650,6700],"format":".1f","grid":true,"title":null}}}},
{"data":{"name":"b30"},"mark":{"type":"rule","color":"#33cc33","strokeWidth":1,"strokeDash":[2,2]},
"encoding":{"y":{"datum":6330.5,"type":"quantitative","scale":{"domain":[6070.7,6707.7],"nice":false,"zero":false,"padding":0},"axis":{"orient":"right","values":[6100,6150,6200,6250,6300,6350,6400,6450,6500,6550,6600,6650,6700],"format":".1f","grid":true,"title":null}}}},
{"data":{"name":"b30"},"mark":{"type":"rect","fill":null,"stroke":"#1a9ad8","strokeWidth":3,"clip":false},
"encoding":{"x":{"field":"t","type":"quantitative","scale":{"domain":[-0.87,22.96],"nice":false,"zero":false,"padding":0},"axis":{"values":[0,6,12,18,22.5],"labelExpr":"datum.value == 0 ? '8' : datum.value == 22.5 ? '23' : (datum.value < 10 ? '0' : '') + datum.value + ':00'","grid":true,"title":null}},"x2":{"field":"t2"},"y":{"field":"v","type":"quantitative","scale":{"domain":[6070.7,6707.7],"nice":false,"zero":false,"padding":0},"axis":{"orient":"right","values":[6100,6150,6200,6250,6300,6350,6400,6450,6500,6550,6600,6650,6700],"format":".1f","grid":true,"title":null}},"y2":{"field":"v2"}}},
{"data":{"name":"p30"},"mark":{"type":"rect","color":"#2ef02e","clip":false},
"encoding":{"x":{"field":"t","type":"quantitative","scale":{"domain":[-0.87,22.96],"nice":false,"zero":false,"padding":0},"axis":{"values":[0,6,12,18,22.5],"labelExpr":"datum.value == 0 ? '8' : datum.value == 22.5 ? '23' : (datum.value < 10 ? '0' : '') + datum.value + ':00'","grid":true,"title":null}},"x2":{"field":"t2"},"y":{"field":"v","type":"quantitative","scale":{"domain":[6070.7,6707.7],"nice":false,"zero":false,"padding":0},"axis":{"orient":"right","values":[6100,6150,6200,6250,6300,6350,6400,6450,6500,6550,6600,6650,6700],"format":".1f","grid":true,"title":null}},"y2":{"field":"v2"}}},
{"data":{"name":"p30"},"mark":{"type":"text","color":"#000000","font":"DejaVu Sans","fontSize":11.5,"align":"center","baseline":"middle","clip":false},
"encoding":{"x":{"field":"tm","type":"quantitative","scale":{"domain":[-0.87,22.96],"nice":false,"zero":false,"padding":0},"axis":{"values":[0,6,12,18,22.5],"labelExpr":"datum.value == 0 ? '8' : datum.value == 22.5 ? '23' : (datum.value < 10 ? '0' : '') + datum.value + ':00'","grid":true,"title":null}},"y":{"field":"p","type":"quantitative","scale":{"domain":[6070.7,6707.7],"nice":false,"zero":false,"padding":0},"axis":{"orient":"right","values":[6100,6150,6200,6250,6300,6350,6400,6450,6500,6550,6600,6650,6700],"format":".1f","grid":true,"title":null}},"text":{"field":"txt"}}},
{"data":{"name":"t30"},"mark":{"type":"text","color":"#000000","font":"Open Sans","fontWeight":"bold","fontSize":21,"align":"center","baseline":"middle"},
"encoding":{"x":{"field":"t","type":"quantitative","scale":{"domain":[-0.87,22.96],"nice":false,"zero":false,"padding":0},"axis":{"values":[0,6,12,18,22.5],"labelExpr":"datum.value == 0 ? '8' : datum.value == 22.5 ? '23' : (datum.value < 10 ? '0' : '') + datum.value + ':00'","grid":true,"title":null}},"y":{"field":"v","type":"quantitative","scale":{"domain":[6070.7,6707.7],"nice":false,"zero":false,"padding":0},"axis":{"orient":"right","values":[6100,6150,6200,6250,6300,6350,6400,6450,6500,6550,6600,6650,6700],"format":".1f","grid":true,"title":null}},"text":{"field":"txt"}}}
]}
]
}
